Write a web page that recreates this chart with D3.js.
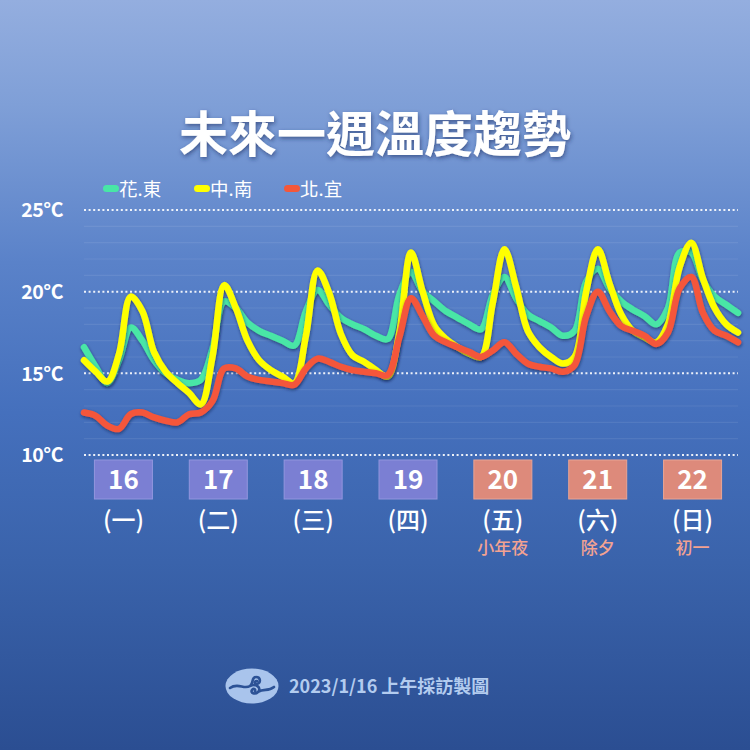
<!DOCTYPE html>
<html>
<head>
<meta charset="utf-8">
<script src="https://cdn.jsdelivr.net/npm/d3@7"></script>
<style>
  html, body { margin: 0; padding: 0; background: #2d5194; }
  svg { display: block; }
  text { font-family: "Noto Sans CJK TC", "Noto Sans", sans-serif; }
</style>
</head>
<body>
<svg id="chart" width="750" height="750"></svg>
<script>
// ---------------- DATA ----------------
const title = "未來一週溫度趨勢";
const seriesNames = ["花.東", "中.南", "北.宜"];
const seriesColors = ["#48e6a6", "#ffff00", "#f4573a"];
// hours since 16th 00:00, every 3 hours
const hours = d3.range(0, 169, 3);
const huadong = [16.6, 15.4, 14.4, 15.8, 17.8, 17.0, 15.8, 15.0,
                 14.6, 14.4, 14.6, 16.5, 19.4, 19.0, 18.1, 17.6,
                 17.3, 17.0, 16.7, 18.8, 20.1, 19.2, 18.4, 18.0,
                 17.7, 17.3, 17.1, 19.8, 21.2, 20.0, 19.4, 18.8,
                 18.4, 18.0, 17.7, 19.8, 20.9, 19.6, 18.6, 18.2,
                 17.8, 17.3, 17.6, 20.6, 21.4, 20.2, 19.4, 18.9,
                 18.5, 18.0, 19.0, 22.4, 22.4, 20.7, 19.7, 19.2, 18.7];
const zhongnan = [15.8, 15.1, 14.5, 16.2, 19.7, 18.8, 16.3, 15.1,
                  14.4, 13.8, 13.1, 16.0, 20.4, 19.0, 17.0, 15.8,
                  15.2, 14.8, 14.4, 17.3, 21.3, 19.9, 17.4, 16.1,
                  15.7, 15.2, 14.8, 17.5, 22.4, 20.0, 17.9, 17.1,
                  16.6, 16.2, 16.0, 19.3, 22.6, 20.3, 17.6, 16.6,
                  16.0, 15.6, 16.0, 20.0, 22.6, 20.5, 18.6, 17.6,
                  17.2, 16.9, 18.0, 21.5, 23.0, 20.8, 19.0, 18.0, 17.5];
const beiyi = [12.6, 12.4, 11.8, 11.6, 12.5, 12.6, 12.3, 12.1,
               12.0, 12.5, 12.6, 13.3, 15.3, 15.3, 14.8, 14.6,
               14.5, 14.4, 14.3, 15.3, 15.9, 15.7, 15.4, 15.2,
               15.1, 15.0, 14.9, 17.2, 19.6, 18.5, 17.3, 16.9,
               16.6, 16.3, 16.0, 16.4, 16.9, 16.2, 15.6, 15.4,
               15.3, 15.1, 15.5, 18.5, 20.0, 18.8, 17.9, 17.6,
               17.3, 16.8, 17.5, 20.2, 20.9, 18.7, 17.6, 17.3, 16.9];
const yTicks = [10, 15, 20, 25];
const days = ["16", "17", "18", "19", "20", "21", "22"];
const weekdays = ["(一)", "(二)", "(三)", "(四)", "(五)", "(六)", "(日)"];
const notes = ["", "", "", "", "小年夜", "除夕", "初一"];
const holiday = [false, false, false, false, true, true, true];
const footer = "2023/1/16 上午採訪製圖";

// ---------------- DRAW ----------------
const svg = d3.select("#chart");
const W = 750, H = 750;
const defs = svg.append("defs");

const bg = defs.append("linearGradient").attr("id", "bg")
  .attr("x1", 0).attr("y1", 0).attr("x2", 0).attr("y2", 1);
[[0, "#94aedf"], [0.14, "#7f9fd7"], [0.35, "#5a82c9"], [0.55, "#4570bd"],
 [0.75, "#3a63ab"], [1, "#2b4e92"]].forEach(([o, c]) =>
  bg.append("stop").attr("offset", o).attr("stop-color", c));

const sh = defs.append("filter").attr("id", "shadow")
  .attr("x", "-5%").attr("y", "-10%").attr("width", "110%").attr("height", "130%");
sh.append("feDropShadow").attr("dx", 0.5).attr("dy", 1.5).attr("stdDeviation", 1.4)
  .attr("flood-color", "#0d1f45").attr("flood-opacity", 0.6);

const tsh = defs.append("filter").attr("id", "tshadow")
  .attr("x", "-5%").attr("y", "-20%").attr("width", "110%").attr("height", "140%");
tsh.append("feDropShadow").attr("dx", 1).attr("dy", 2).attr("stdDeviation", 2)
  .attr("flood-color", "#1c2f60").attr("flood-opacity", 0.6);

svg.append("rect").attr("width", W).attr("height", H).attr("fill", "url(#bg)");

// Title
svg.append("text").attr("x", 375).attr("y", 152)
  .attr("text-anchor", "middle").attr("font-size", 49).attr("font-weight", 700)
  .attr("fill", "#ffffff").attr("filter", "url(#tshadow)").text(title);

// Scales
const x = d3.scaleLinear().domain([0, 168]).range([84, 738]);
const y = d3.scaleLinear().domain([10, 25]).range([455, 210]);

// faint 1-degree lines
const g = svg.append("g");
g.selectAll("line.faint").data(d3.range(11, 25).filter(v => v % 5 !== 0))
  .join("line").attr("class", "faint")
  .attr("x1", 84).attr("x2", 738)
  .attr("y1", d => y(d)).attr("y2", d => y(d))
  .attr("stroke", "#ffffff").attr("stroke-opacity", 0.08).attr("stroke-width", 1.2);

// dotted gridlines
g.selectAll("line.grid").data(yTicks).join("line").attr("class", "grid")
  .attr("x1", 84).attr("x2", 738)
  .attr("y1", d => y(d)).attr("y2", d => y(d))
  .attr("stroke", "#ffffff").attr("stroke-width", 2)
  .attr("stroke-dasharray", "2,2.6").attr("stroke-opacity", 0.9);

// y axis
const yAxis = d3.axisLeft(y).tickValues(yTicks).tickSize(0).tickPadding(0)
  .tickFormat(d => d + "°C");
const ya = svg.append("g").attr("transform", "translate(63,0)").call(yAxis);
ya.select(".domain").remove();
ya.selectAll("text").attr("fill", "#ffffff").attr("font-size", 19.5)
  .attr("font-weight", 700).attr("font-family", "'Noto Sans', sans-serif")
  .attr("letter-spacing", "-0.5px").attr("dy", "0.35em");

// Lines
const line = d3.line().x((d, i) => x(hours[i])).y(d => y(d))
  .curve(d3.curveCatmullRom.alpha(0.5));
const allSeries = [huadong, zhongnan, beiyi];
svg.append("g").selectAll("path").data(allSeries).join("path")
  .attr("d", d => line(d))
  .attr("fill", "none")
  .attr("stroke", (d, i) => seriesColors[i])
  .attr("stroke-width", 6.5)
  .attr("stroke-linecap", "round").attr("stroke-linejoin", "round")
  .attr("filter", "url(#shadow)");

// Legend
const legX = [103, 194, 284];
const leg = svg.append("g");
seriesNames.forEach((n, i) => {
  leg.append("rect").attr("x", legX[i]).attr("y", 185).attr("width", 16).attr("height", 7)
    .attr("rx", 3.5).attr("fill", seriesColors[i]);
  leg.append("text").attr("x", legX[i] + 16).attr("y", 196)
    .attr("font-size", 18.5).attr("fill", "#ffffff").text(n);
});

// Day boxes
const xb = d3.scaleBand().domain(days).range([76, 740]);
const dg = svg.append("g");
days.forEach((d, i) => {
  const cx = xb(d) + xb.bandwidth() / 2;
  dg.append("rect").attr("x", cx - 29).attr("y", 460).attr("width", 58).attr("height", 39)
    .attr("fill", holiday[i] ? "#dd8a7b" : "#7b7fd3")
    .attr("stroke", holiday[i] ? "#e9a494" : "#9296de").attr("stroke-width", 1);
  dg.append("text").attr("x", cx).attr("y", 489).attr("text-anchor", "middle")
    .attr("font-size", 26).attr("font-weight", 700).attr("fill", "#ffffff")
    .attr("font-family", "'Noto Sans', sans-serif").text(d);
  dg.append("text").attr("x", cx).attr("y", 529).attr("text-anchor", "middle")
    .attr("font-size", 24).attr("font-weight", 500).attr("fill", "#ffffff").text(weekdays[i]);
  if (notes[i]) {
    dg.append("text").attr("x", cx).attr("y", 554).attr("text-anchor", "middle")
      .attr("font-size", 17).attr("font-weight", 500).attr("fill", "#f3a291").text(notes[i]);
  }
});

// Footer logo
const lg = svg.append("g").attr("transform", "translate(252,686)");
lg.append("ellipse").attr("rx", 26.5).attr("ry", 17.5).attr("fill", "#a9c4ec");
lg.append("path")
  .attr("d", "M-22,2 C-14,-4 -8,4 -2,0 C2,-3 -1,-9 4,-9 C9,-9 9,-3 5,-2 C2,-1 2,-5 5,-5 " +
             "M-2,0 C4,-3 10,2 6,6 C3,9 -2,7 0,4 C1,2 4,3 3,5 " +
             "M6,6 C12,2 16,6 22,1")
  .attr("fill", "none").attr("stroke", "#2c5296").attr("stroke-width", 2.6)
  .attr("stroke-linecap", "round");

svg.append("text").attr("x", 289).attr("y", 693)
  .attr("font-size", 18).attr("font-weight", 700).attr("fill", "#b3ccef")
  .text(footer);
</script>
</body>
</html>
